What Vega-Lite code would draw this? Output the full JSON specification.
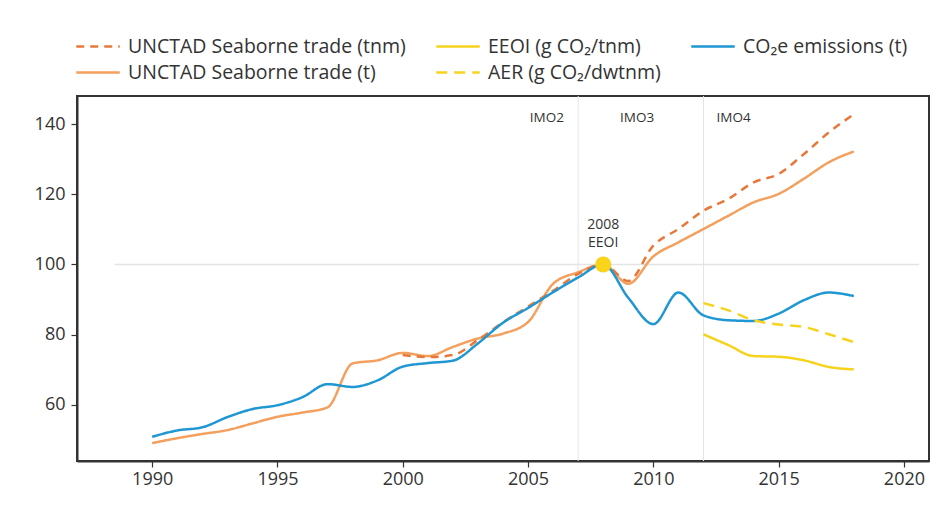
{
  "$schema": "https://vega.github.io/schema/vega-lite/v6.json",
  "width": 852,
  "height": 365,
  "autosize": {"type": "none"},
  "padding": {"left": 77, "top": 96, "right": 22, "bottom": 44},
  "background": "white",
  "config": {
    "view": {"stroke": "#333333", "strokeWidth": 2},
    "font": "Open Sans",
    "axis": {
      "grid": false,
      "domainColor": "#333333",
      "domainWidth": 2,
      "tickColor": "#333333",
      "tickWidth": 1.2,
      "tickSize": 6,
      "labelFont": "Open Sans",
      "labelFontSize": 18,
      "labelColor": "#333333",
      "title": null
    },
    "legend": {
      "orient": "none",
      "legendX": 4.5,
      "legendY": -66,
      "direction": "horizontal",
      "columns": 3,
      "symbolType": "M-1.45,0H1.45",
      "symbolSize": 900,
      "symbolStrokeWidth": 2.5,
      "labelFont": "Open Sans",
      "labelFontSize": 19.5,
      "labelColor": "#333333",
      "labelOffset": 13.5,
      "columnPadding": 24,
      "rowPadding": 0,
      "labelLimit": 400,
      "title": null
    }
  },
  "datasets": {
    "series": [
      {"s": "UNCTAD Seaborne trade (t)", "year": 1990, "v": 49.1},
      {"s": "UNCTAD Seaborne trade (t)", "year": 1991, "v": 50.5},
      {"s": "UNCTAD Seaborne trade (t)", "year": 1992, "v": 51.7},
      {"s": "UNCTAD Seaborne trade (t)", "year": 1993, "v": 52.8},
      {"s": "UNCTAD Seaborne trade (t)", "year": 1994, "v": 54.7},
      {"s": "UNCTAD Seaborne trade (t)", "year": 1995, "v": 56.6},
      {"s": "UNCTAD Seaborne trade (t)", "year": 1996, "v": 57.8},
      {"s": "UNCTAD Seaborne trade (t)", "year": 1997, "v": 59.3},
      {"s": "UNCTAD Seaborne trade (t)", "year": 1998, "v": 71.8},
      {"s": "UNCTAD Seaborne trade (t)", "year": 1999, "v": 72.7},
      {"s": "UNCTAD Seaborne trade (t)", "year": 2000, "v": 74.8},
      {"s": "UNCTAD Seaborne trade (t)", "year": 2001, "v": 73.9},
      {"s": "UNCTAD Seaborne trade (t)", "year": 2002, "v": 76.5},
      {"s": "UNCTAD Seaborne trade (t)", "year": 2003, "v": 78.9},
      {"s": "UNCTAD Seaborne trade (t)", "year": 2004, "v": 80.3},
      {"s": "UNCTAD Seaborne trade (t)", "year": 2005, "v": 83.6},
      {"s": "UNCTAD Seaborne trade (t)", "year": 2006, "v": 94.5},
      {"s": "UNCTAD Seaborne trade (t)", "year": 2007, "v": 97.8},
      {"s": "UNCTAD Seaborne trade (t)", "year": 2008, "v": 100},
      {"s": "UNCTAD Seaborne trade (t)", "year": 2009, "v": 94.5},
      {"s": "UNCTAD Seaborne trade (t)", "year": 2010, "v": 102.3},
      {"s": "UNCTAD Seaborne trade (t)", "year": 2011, "v": 106.3},
      {"s": "UNCTAD Seaborne trade (t)", "year": 2012, "v": 110.1},
      {"s": "UNCTAD Seaborne trade (t)", "year": 2013, "v": 113.9},
      {"s": "UNCTAD Seaborne trade (t)", "year": 2014, "v": 117.7},
      {"s": "UNCTAD Seaborne trade (t)", "year": 2015, "v": 120.1},
      {"s": "UNCTAD Seaborne trade (t)", "year": 2016, "v": 124.4},
      {"s": "UNCTAD Seaborne trade (t)", "year": 2017, "v": 129.1},
      {"s": "UNCTAD Seaborne trade (t)", "year": 2018, "v": 132.2},
      {"s": "UNCTAD Seaborne trade (tnm)", "year": 2000, "v": 74.2},
      {"s": "UNCTAD Seaborne trade (tnm)", "year": 2001, "v": 73.6},
      {"s": "UNCTAD Seaborne trade (tnm)", "year": 2002, "v": 74.2},
      {"s": "UNCTAD Seaborne trade (tnm)", "year": 2003, "v": 78.5},
      {"s": "UNCTAD Seaborne trade (tnm)", "year": 2004, "v": 83.5},
      {"s": "UNCTAD Seaborne trade (tnm)", "year": 2005, "v": 88},
      {"s": "UNCTAD Seaborne trade (tnm)", "year": 2006, "v": 92.5},
      {"s": "UNCTAD Seaborne trade (tnm)", "year": 2007, "v": 97.3},
      {"s": "UNCTAD Seaborne trade (tnm)", "year": 2008, "v": 100},
      {"s": "UNCTAD Seaborne trade (tnm)", "year": 2009, "v": 95.3},
      {"s": "UNCTAD Seaborne trade (tnm)", "year": 2010, "v": 105.4},
      {"s": "UNCTAD Seaborne trade (tnm)", "year": 2011, "v": 110.1},
      {"s": "UNCTAD Seaborne trade (tnm)", "year": 2012, "v": 115.3},
      {"s": "UNCTAD Seaborne trade (tnm)", "year": 2013, "v": 118.7},
      {"s": "UNCTAD Seaborne trade (tnm)", "year": 2014, "v": 123.4},
      {"s": "UNCTAD Seaborne trade (tnm)", "year": 2015, "v": 125.8},
      {"s": "UNCTAD Seaborne trade (tnm)", "year": 2016, "v": 131.4},
      {"s": "UNCTAD Seaborne trade (tnm)", "year": 2017, "v": 137.6},
      {"s": "UNCTAD Seaborne trade (tnm)", "year": 2018, "v": 142.8},
      {"s": "CO₂e emissions (t)", "year": 1990, "v": 50.9},
      {"s": "CO₂e emissions (t)", "year": 1991, "v": 52.7},
      {"s": "CO₂e emissions (t)", "year": 1992, "v": 53.6},
      {"s": "CO₂e emissions (t)", "year": 1993, "v": 56.5},
      {"s": "CO₂e emissions (t)", "year": 1994, "v": 58.8},
      {"s": "CO₂e emissions (t)", "year": 1995, "v": 59.9},
      {"s": "CO₂e emissions (t)", "year": 1996, "v": 62.2},
      {"s": "CO₂e emissions (t)", "year": 1997, "v": 65.9},
      {"s": "CO₂e emissions (t)", "year": 1998, "v": 65.1},
      {"s": "CO₂e emissions (t)", "year": 1999, "v": 67},
      {"s": "CO₂e emissions (t)", "year": 2000, "v": 70.9},
      {"s": "CO₂e emissions (t)", "year": 2001, "v": 71.9},
      {"s": "CO₂e emissions (t)", "year": 2002, "v": 72.6},
      {"s": "CO₂e emissions (t)", "year": 2003, "v": 77.5},
      {"s": "CO₂e emissions (t)", "year": 2004, "v": 83.4},
      {"s": "CO₂e emissions (t)", "year": 2005, "v": 87.6},
      {"s": "CO₂e emissions (t)", "year": 2006, "v": 92.1},
      {"s": "CO₂e emissions (t)", "year": 2007, "v": 96.3},
      {"s": "CO₂e emissions (t)", "year": 2008, "v": 100},
      {"s": "CO₂e emissions (t)", "year": 2009, "v": 90.5},
      {"s": "CO₂e emissions (t)", "year": 2010, "v": 83},
      {"s": "CO₂e emissions (t)", "year": 2011, "v": 92},
      {"s": "CO₂e emissions (t)", "year": 2012, "v": 85.5},
      {"s": "CO₂e emissions (t)", "year": 2013, "v": 84.1},
      {"s": "CO₂e emissions (t)", "year": 2014, "v": 83.9},
      {"s": "CO₂e emissions (t)", "year": 2015, "v": 86},
      {"s": "CO₂e emissions (t)", "year": 2016, "v": 89.8},
      {"s": "CO₂e emissions (t)", "year": 2017, "v": 92},
      {"s": "CO₂e emissions (t)", "year": 2018, "v": 91},
      {"s": "EEOI (g CO₂/tnm)", "year": 2012, "v": 80.1},
      {"s": "EEOI (g CO₂/tnm)", "year": 2013, "v": 77},
      {"s": "EEOI (g CO₂/tnm)", "year": 2014, "v": 73.9},
      {"s": "EEOI (g CO₂/tnm)", "year": 2015, "v": 73.7},
      {"s": "EEOI (g CO₂/tnm)", "year": 2016, "v": 72.7},
      {"s": "EEOI (g CO₂/tnm)", "year": 2017, "v": 70.8},
      {"s": "EEOI (g CO₂/tnm)", "year": 2018, "v": 70.1},
      {"s": "AER (g CO₂/dwtnm)", "year": 2012, "v": 89},
      {"s": "AER (g CO₂/dwtnm)", "year": 2013, "v": 86.9},
      {"s": "AER (g CO₂/dwtnm)", "year": 2014, "v": 84.1},
      {"s": "AER (g CO₂/dwtnm)", "year": 2015, "v": 82.9},
      {"s": "AER (g CO₂/dwtnm)", "year": 2016, "v": 82.2},
      {"s": "AER (g CO₂/dwtnm)", "year": 2017, "v": 80.1},
      {"s": "AER (g CO₂/dwtnm)", "year": 2018, "v": 77.9}
    ]
  },
  "layer": [
    {
      "data": {"values": [{"year": 2007}, {"year": 2012}]},
      "mark": {"type": "rule", "color": "#e4e4e4", "strokeWidth": 1},
      "encoding": {
        "x": {"field": "year", "type": "quantitative", "scale": {"domain": [1987, 2021], "nice": false, "zero": false}}
      }
    },
    {
      "data": {"values": [{"x1": 1988.5, "x2": 2020.6, "v": 100}]},
      "mark": {"type": "rule", "color": "#e4e4e4", "strokeWidth": 1.5},
      "encoding": {
        "x": {"field": "x1", "type": "quantitative"},
        "x2": {"field": "x2"},
        "y": {"field": "v", "type": "quantitative"}
      }
    },
    {
      "data": {"name": "series"},
      "mark": {"type": "line", "interpolate": "monotone", "strokeWidth": 2.5},
      "encoding": {
        "x": {
          "field": "year", "type": "quantitative",
          "scale": {"domain": [1987, 2021], "nice": false, "zero": false},
          "axis": {"values": [1990, 1995, 2000, 2005, 2010, 2015, 2020], "format": "d", "labelPadding": 3}
        },
        "y": {
          "field": "v", "type": "quantitative",
          "scale": {"domain": [44, 148], "nice": false, "zero": false},
          "axis": {"values": [60, 80, 100, 120, 140], "labelPadding": 6}
        },
        "color": {
          "field": "s", "type": "nominal",
          "scale": {
            "domain": ["UNCTAD Seaborne trade (tnm)", "EEOI (g CO₂/tnm)", "CO₂e emissions (t)", "UNCTAD Seaborne trade (t)", "AER (g CO₂/dwtnm)"],
            "range": ["#E8783A", "#F6D31C", "#1F97D3", "#F3A05E", "#F6D31C"]
          }
        },
        "strokeDash": {
          "field": "s", "type": "nominal",
          "scale": {
            "domain": ["UNCTAD Seaborne trade (tnm)", "EEOI (g CO₂/tnm)", "CO₂e emissions (t)", "UNCTAD Seaborne trade (t)", "AER (g CO₂/dwtnm)"],
            "range": [[8, 6], [1, 0], [1, 0], [1, 0], [11, 7]]
          }
        },
        "order": {"field": "year", "type": "quantitative"}
      }
    },
    {
      "data": {"values": [{"year": 2008, "v": 100}]},
      "mark": {"type": "point", "filled": true, "color": "#F9D41A", "opacity": 1, "size": 260},
      "encoding": {
        "x": {"field": "year", "type": "quantitative"},
        "y": {"field": "v", "type": "quantitative"}
      }
    },
    {
      "data": {"values": [
        {"year": 2005.75, "v": 141.6, "t": "IMO2"},
        {"year": 2009.35, "v": 141.6, "t": "IMO3"},
        {"year": 2013.2, "v": 141.6, "t": "IMO4"}
      ]},
      "mark": {"type": "text", "font": "Open Sans", "fontSize": 13.5, "fontWeight": 500, "color": "#333333", "align": "center", "baseline": "middle"},
      "encoding": {
        "x": {"field": "year", "type": "quantitative"},
        "y": {"field": "v", "type": "quantitative"},
        "text": {"field": "t"}
      }
    },
    {
      "data": {"values": [
        {"year": 2008, "v": 111.2, "t": "2008"},
        {"year": 2008, "v": 106, "t": "EEOI"}
      ]},
      "mark": {"type": "text", "font": "Open Sans", "fontSize": 14, "color": "#333333", "align": "center", "baseline": "middle"},
      "encoding": {
        "x": {"field": "year", "type": "quantitative"},
        "y": {"field": "v", "type": "quantitative"},
        "text": {"field": "t"}
      }
    }
  ]
}
